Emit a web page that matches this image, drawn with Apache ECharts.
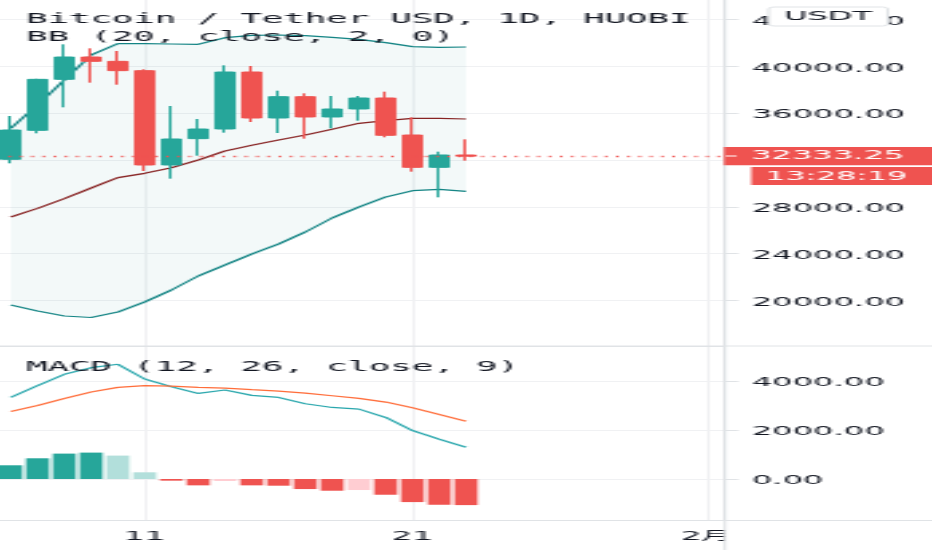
<!DOCTYPE html>
<html>
<head>
<meta charset="utf-8">
<style>
html,body{margin:0;padding:0;width:932px;height:550px;overflow:hidden;background:#fff}
#c{width:348px;height:550px;transform-origin:0 0;transform:scaleX(2.6782)}
</style>
<script src="https://cdn.jsdelivr.net/npm/echarts@6/dist/echarts.min.js"></script>
</head>
<body>
<div id="c"></div>
<script>
const days=['01-06','01-07','01-08','01-09','01-10','01-11','01-12','01-13','01-14','01-15','01-16','01-17','01-18','01-19','01-20','01-21','01-22','01-23'];
const opens =[32066,34544,38903,40812,40442,39644,31581,33832,34658,39530,35598,37422,35684,36368,37308,34145,31382,32436];
const closes=[34573,38903,40812,40442,39644,31581,33804,34658,39530,35598,37422,35684,36368,37308,34117,31382,32436,32333.25];
const lows  =[31723,34288,36510,38618,38447,31068,30413,32379,34345,35256,34316,33832,34715,35370,33946,31011,28818,31952];
const highs =[35769,38950,41895,41553,41325,39758,36624,35513,40100,40043,37934,37707,37479,37479,37849,35655,32721,33775];
const bbUpper=[34715,36709,38846,40983,41952,41952,41923,41895,42464,42664,42692,42635,42493,42322,42037,41695,41638,41667];
const bbMiddle=[27137,27877,28704,29616,30499,30869,31353,32009,32778,33262,33718,34145,34630,35143,35370,35570,35570,35513];
const bbLower=[19615,19102,18675,18547,19017,19872,20897,22094,23034,23974,24829,25854,27051,27992,28846,29385,29504,29333];
const macdLine=[3331,3808,4272,4545,4682,4081,3767,3494,3631,3413,3331,3071,2921,2853,2512,1979,1624,1297];
const signalLine=[2757,3003,3290,3549,3740,3808,3795,3740,3713,3645,3590,3508,3399,3290,3140,2907,2634,2361];
const histogram=[560,846,1037,1078,956,273,-68,-259,-82,-259,-273,-410,-478,-450,-642,-942,-1051,-1065];
const priceTicks=[20000,24000,28000,32000,36000,40000,44000];
const macdTicks=[0,2000,4000];
const timeTickPos=[5,15,26];
const timeTickText=['11','21','2月'];
const lastPrice=32333.25, countdown='13:28:19';

const MONO='"DejaVu Sans Mono",monospace';
const SANS='"DejaVu Sans","Noto Sans CJK SC",sans-serif';
const TXT='#131722', GRID='#f0f1f3', AXIS='#e0e3e6', UP='#26a69a', DOWN='#ef5350';
const pairs=a=>a.map((v,i)=>[i,v]);
const histColor=i=>{const v=histogram[i],p=i?histogram[i-1]:v;
  return v>=0?(v>=p?UP:'#b2dfdb'):(v<=p?DOWN:'#ffcdd2');};
const xBase={type:'value',min:-0.5,max:26.67,
  axisLine:{show:true,onZero:false,lineStyle:{color:AXIS,width:1}},
  axisTick:{show:false,customValues:timeTickPos},
  splitLine:{show:true,lineStyle:{color:GRID,width:1}}};
const yBase={type:'value',position:'right',
  axisLine:{show:true,onZero:false,lineStyle:{color:AXIS,width:1}},
  axisTick:{show:true,length:5,lineStyle:{color:AXIS}},
  splitLine:{show:true,lineStyle:{color:GRID,width:1}}};
const yLabel=ticks=>({customValues:ticks,margin:10,align:'left',verticalAlign:'top',lineHeight:4,fontFamily:SANS,fontSize:12,color:TXT,formatter:v=>v.toFixed(2)});
const label=t=>({text:t.text,left:9.7,top:t.top,padding:0,textStyle:{fontFamily:MONO,fontSize:13.3,fontWeight:'normal',color:TXT}});

const chart=echarts.init(document.getElementById('c'),null,{renderer:'canvas'});
chart.setOption({
  animation:false,
  title:[label({text:'Bitcoin / Tether USD, 1D, HUOBI',top:13.5}),label({text:'BB (20, close, 2, 0)',top:31}),label({text:'MACD (12, 26, close, 9)',top:361})],
  grid:[{left:-1,top:0,width:271.7,height:346,outerBoundsMode:'none'},{left:-1,top:346,width:271.7,height:174,outerBoundsMode:'none'}],
  xAxis:[
    Object.assign({},xBase,{gridIndex:0,axisLabel:{show:false,customValues:timeTickPos}}),
    Object.assign({},xBase,{gridIndex:1,axisLabel:{show:true,customValues:timeTickPos,margin:11,fontFamily:SANS,fontSize:12,color:TXT,
      formatter:v=>timeTickText[timeTickPos.indexOf(v)]||''}})
  ],
  yAxis:[
    Object.assign({},yBase,{gridIndex:0,min:16111,max:45684,
      axisTick:Object.assign({},yBase.axisTick,{customValues:priceTicks}),axisLabel:yLabel(priceTicks)}),
    Object.assign({},yBase,{gridIndex:1,min:-1673,max:5429,
      axisTick:Object.assign({},yBase.axisTick,{customValues:macdTicks}),axisLabel:yLabel(macdTicks)})
  ],
  series:[
    {name:'BB band',type:'custom',silent:true,z:1,encode:{x:0,y:[1,2]},clip:true,
      data:days.map((d,i)=>[i,bbLower[i],bbUpper[i]]),
      renderItem:(params,api)=>{
        if(params.dataIndex!==0) return null;
        const top=bbUpper.map((v,i)=>api.coord([i,v]));
        const bot=bbLower.map((v,i)=>api.coord([i,v])).reverse();
        return {type:'polygon',shape:{points:top.concat(bot)},style:{fill:'rgba(19,132,132,0.05)'}};
      }},
    {name:'BB upper',type:'line',data:pairs(bbUpper),symbol:'none',lineStyle:{color:'#138484',width:1.2},z:2},
    {name:'BB lower',type:'line',data:pairs(bbLower),symbol:'none',lineStyle:{color:'#138484',width:1.2},z:2},
    {name:'BB middle',type:'line',data:pairs(bbMiddle),symbol:'none',lineStyle:{color:'#872323',width:1.2},z:2},
    {name:'BTCUSDT',type:'candlestick',barWidth:8,encode:{x:0,y:[1,2,3,4]},
      data:days.map((d,i)=>[i,opens[i],closes[i],lows[i],highs[i]]),
      itemStyle:{color:UP,color0:DOWN,borderColor:UP,borderColor0:DOWN,borderWidth:1},z:3,
      markLine:{silent:true,symbol:'none',label:{show:false},animation:false,
        lineStyle:{color:DOWN,type:[1,3.2],width:1.3},data:[{yAxis:lastPrice}]}},
    {name:'Histogram',type:'bar',xAxisIndex:1,yAxisIndex:1,barWidth:8.6,
      data:histogram.map((v,i)=>({value:[i,v],itemStyle:{color:histColor(i)}})),z:2},
    {name:'MACD',type:'line',xAxisIndex:1,yAxisIndex:1,data:pairs(macdLine),symbol:'none',lineStyle:{color:'#2aa7ad',width:1.2},z:3},
    {name:'Signal',type:'line',xAxisIndex:1,yAxisIndex:1,data:pairs(signalLine),symbol:'none',lineStyle:{color:'#ff6d3a',width:1.2},z:3}
  ],
  graphic:[
    {type:'rect',z:50,shape:{x:271,y:521,width:78,height:29},style:{fill:'#fff'}},
    {type:'line',z:51,shape:{x1:-1,y1:346,x2:348,y2:346},style:{stroke:AXIS,lineWidth:1}},
    {type:'line',z:51,shape:{x1:-1,y1:520.5,x2:348,y2:520.5},style:{stroke:AXIS,lineWidth:1}},
    {type:'line',z:51,shape:{x1:270.7,y1:0,x2:270.7,y2:550},style:{stroke:AXIS,lineWidth:1}},
    {type:'rect',z:52,shape:{x:270.3,y:147,width:78,height:18.2},style:{fill:DOWN}},
    {type:'line',z:53,shape:{x1:271,y1:156,x2:275,y2:156},style:{stroke:'#fff',lineWidth:1}},
    {type:'text',z:53,x:280.4,y:149.5,style:{text:lastPrice.toFixed(2),fill:'#fff',font:'12px '+SANS}},
    {type:'rect',z:52,shape:{x:280.5,y:167,width:68,height:18},style:{fill:DOWN}},
    {type:'text',z:53,x:285.7,y:171,style:{text:countdown,fill:'#fff',font:'11.8px '+SANS}},
    {type:'rect',z:54,shape:{x:287,y:7,width:44.5,height:19,r:2},style:{fill:'#fff',stroke:AXIS,lineWidth:1}},
    {type:'text',z:55,x:309.2,y:10.5,style:{text:'USDT',fill:TXT,align:'center',font:'12px '+SANS}}
  ]
});
</script>
</body>
</html>
